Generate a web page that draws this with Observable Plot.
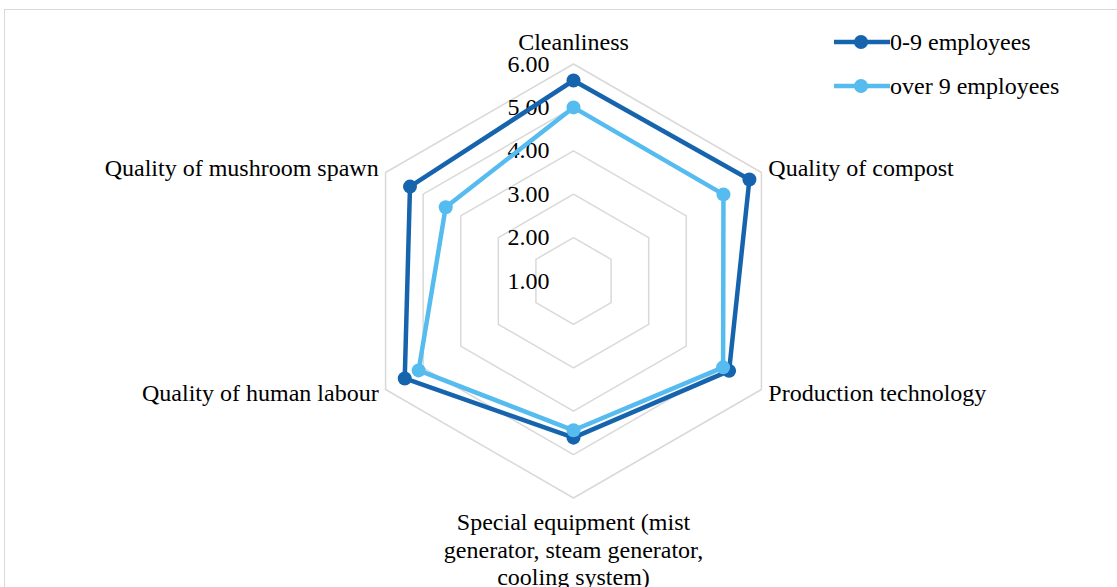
<!DOCTYPE html>
<html>
<head>
<meta charset="utf-8">
<script src="https://cdn.jsdelivr.net/npm/d3@7"></script>
<script src="https://cdn.jsdelivr.net/npm/@observablehq/plot@0.6"></script>
<style>
  html, body { margin: 0; padding: 0; background: #fff; overflow: hidden; }
  #wrap { position: relative; width: 1117px; height: 587px; overflow: hidden; font-family: "Liberation Serif", "Times New Roman", serif; }
  #frame { position: absolute; left: 4px; top: 9px; width: 1300px; height: 800px; border: 1px solid #d9d9d9; box-sizing: border-box; }
  #chart { position: absolute; left: 0; top: 0; }
  .leg { position: absolute; left: 834px; height: 28px; display: flex; align-items: center; font-size: 24px; color: #000; white-space: nowrap; }
  .leg svg { display: block; }
</style>
</head>
<body>
<div id="wrap">
  <div id="frame"></div>
  <div id="chart"></div>
  <div id="legend"></div>
</div>
<script>
// ---- data ----
const categories = [
  "Cleanliness",
  "Quality of compost",
  "Production technology",
  "Special equipment (mist\ngenerator, steam generator,\ncooling system)",
  "Quality of human labour",
  "Quality of mushroom spawn"
];
const seriesNames = ["0-9 employees", "over 9 employees"];
const small = [5.62, 5.68, 5.14, 4.61, 5.49, 5.35];
const large = [5.00, 4.99, 4.98, 4.44, 5.12, 4.40];
const tickLabels = ["1.00", "2.00", "3.00", "4.00", "5.00", "6.00"];
const axisMin = 1, axisMax = 6;

// ---- styling ----
const colors = ["#1764ae", "#56bbef"];
const unit = 43.4, cx = 573, cy = 280.5;
const fontSize = 24;

// ---- derived ----
const n = categories.length;
const angle = i => (2 * Math.PI * i) / n;
const px = (v, i) => (v - axisMin) * Math.sin(angle(i));
const py = (v, i) => (v - axisMin) * Math.cos(angle(i));

const levels = d3.range(axisMin + 1, axisMax + 1);
const grid = levels.flatMap(l => categories.map((c, i) => ({level: l, x: px(l, i), y: py(l, i)})));

const rows = [];
[small, large].forEach((vals, s) => {
  vals.forEach((v, i) => rows.push({series: seriesNames[s], cat: categories[i], i, value: v, x: px(v, i), y: py(v, i)}));
});

const ticks = tickLabels.map((t, k) => ({label: t, value: axisMin + k}));

const pad = 8 / unit;
const labels = categories.map((c, i) => ({
  text: c, i,
  s: Math.sin(angle(i)),
  x: px(axisMax + pad, i),
  y: py(axisMax + pad, i),
  vx: px(axisMax, i),
  vy: py(axisMax, i)
}));

const plot = Plot.plot({
  width: 1117,
  height: 587,
  margin: 0,
  style: {fontFamily: '"Liberation Serif", "Times New Roman", serif', background: "transparent"},
  x: {type: "linear", domain: [0, 1], range: [cx, cx + unit], axis: null},
  y: {type: "linear", domain: [0, 1], range: [cy, cy - unit], axis: null},
  color: {domain: seriesNames, range: colors},
  marks: [
    Plot.line(grid, {x: "x", y: "y", z: "level", curve: "linear-closed", stroke: "#d9d9d9", strokeWidth: 1.5}),
    Plot.text(ticks, {x: () => 0, y: d => d.value - axisMin, text: "label", textAnchor: "end", dx: -24, fontSize, fill: "#000"}),
    Plot.line(rows, {x: "x", y: "y", z: "series", stroke: "series", curve: "linear-closed", strokeWidth: 4.5, strokeLinejoin: "round"}),
    Plot.dot(rows, {x: "x", y: "y", fill: "series", r: 7, stroke: "none"}),
    // top label
    Plot.text(labels.filter(d => Math.abs(d.s) < 0.1 && d.vy > 0), {x: "vx", y: "vy", text: "text", textAnchor: "middle", dy: -22, fontSize, fill: "#000"}),
    // bottom label
    Plot.text(labels.filter(d => Math.abs(d.s) < 0.1 && d.vy < 0), {x: "vx", y: "vy", text: "text", textAnchor: "middle", lineAnchor: "middle", lineHeight: 1.15, dy: 51, fontSize, fill: "#000"}),
    // right labels
    Plot.text(labels.filter(d => d.s > 0.1), {x: "x", y: "y", text: "text", textAnchor: "start", fontSize, fill: "#000"}),
    // left labels
    Plot.text(labels.filter(d => d.s < -0.1), {x: "x", y: "y", text: "text", textAnchor: "end", fontSize, fill: "#000"})
  ]
});
document.getElementById("chart").appendChild(plot);

// legend
const legend = document.getElementById("legend");
seriesNames.forEach((name, k) => {
  const row = document.createElement("div");
  row.className = "leg";
  row.style.top = (28 + k * 44) + "px";
  row.innerHTML = `<svg width="56" height="28"><line x1="0" x2="56" y1="14" y2="14" stroke="${colors[k]}" stroke-width="4.5" stroke-linecap="round"/><circle cx="27" cy="14" r="7" fill="${colors[k]}"/></svg><span>${name}</span>`;
  legend.appendChild(row);
});
</script>
</body>
</html>
